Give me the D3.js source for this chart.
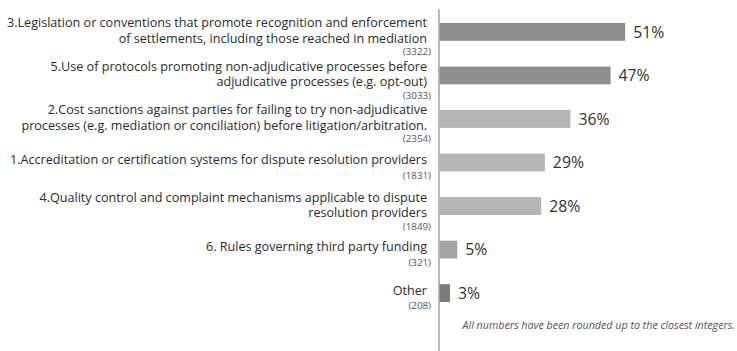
<!DOCTYPE html>
<html>
<head>
<meta charset="utf-8">
<script src="https://cdn.jsdelivr.net/npm/d3@7"></script>
<style>
  html, body { margin: 0; padding: 0; background: #fff; }
  svg { display: block; }
</style>
</head>
<body>
<svg id="chart" width="737" height="351"></svg>
<script>
// Survey measures, in display order (top to bottom)
const categories = ["c3", "c5", "c2", "c1", "c4", "c6", "other"];
const labelLines = [
  ["3.Legislation or conventions that promote recognition and enforcement",
   "of settlements, including those reached in mediation"],
  ["5.Use of protocols promoting non-adjudicative processes before",
   "adjudicative processes (e.g. opt-out)"],
  ["2.Cost sanctions against parties for failing to try non-adjudicative",
   "processes (e.g. mediation or conciliation) before litigation/arbitration."],
  ["1.Accreditation or certification systems for dispute resolution providers"],
  ["4.Quality control and complaint mechanisms applicable to dispute",
   "resolution providers"],
  ["6. Rules governing third party funding"],
  ["Other"]
];
const responses = [3322, 3033, 2354, 1831, 1849, 321, 208];
const percents = [51, 47, 36, 29, 28, 5, 3];
const barColors = ["#8e8e8e", "#8e8e8e", "#b5b5b5", "#b5b5b5", "#b5b5b5", "#a3a3a3", "#7b7b7b"];
const footnote = "All numbers have been rounded up to the closest integers.";

const FONT = "'Open Sans', Lato, sans-serif";
const svg = d3.select("#chart");
const axisX = 439;

const x = d3.scaleLinear().domain([0, 60]).range([axisX, axisX + 219]);
const y = d3.scaleBand().domain(categories).range([23, 302])
  .paddingInner(0.59).paddingOuter(0);

// vertical axis line
svg.append("line")
  .attr("x1", axisX).attr("x2", axisX)
  .attr("y1", 9).attr("y2", 351)
  .attr("stroke", "#8a8a8a").attr("stroke-width", 1.2);

const rows = svg.selectAll("g.row")
  .data(categories.map((c, i) => ({
    key: c, lines: labelLines[i], n: responses[i], p: percents[i], color: barColors[i]
  })))
  .join("g").attr("class", "row");

// bars
rows.append("rect")
  .attr("x", axisX + 0.6)
  .attr("y", d => y(d.key))
  .attr("width", d => x(d.p) - axisX - 0.6)
  .attr("height", y.bandwidth())
  .attr("fill", d => d.color);

// value labels
rows.append("text")
  .attr("x", d => x(d.p) + 8)
  .attr("y", d => y(d.key) + y.bandwidth() / 2)
  .attr("dy", "0.36em")
  .attr("font-family", FONT)
  .attr("font-size", 15.8)
  .attr("fill", "#333")
  .text(d => d.p + "%");

// category labels, right aligned against the axis, with response counts below
const lineGap = 15.5;
rows.each(function (d) {
  const g = d3.select(this);
  const c = y(d.key) + y.bandwidth() / 2;
  const twoLines = d.lines.length === 2;
  const first = twoLines ? c - 4.5 : c + 1.5;
  d.lines.forEach((line, j) => {
    g.append("text")
      .attr("x", 427)
      .attr("y", first + j * lineGap)
      .attr("text-anchor", "end")
      .attr("font-family", FONT)
      .attr("font-size", 12.6)
      .attr("fill", "#2b2b2b")
      .text(line);
  });
  g.append("text")
    .attr("x", 431)
    .attr("y", first + (d.lines.length - 1) * lineGap + (twoLines ? 12.5 : 14.5))
    .attr("text-anchor", "end")
    .attr("font-family", FONT)
    .attr("font-size", 9.8)
    .attr("fill", "#555")
    .text("(" + d.n + ")");
});

// footnote
svg.append("text")
  .attr("x", 735)
  .attr("y", 329)
  .attr("text-anchor", "end")
  .attr("font-family", FONT)
  .attr("font-style", "italic")
  .attr("font-size", 10.7)
  .attr("fill", "#555")
  .text(footnote);
</script>
</body>
</html>
